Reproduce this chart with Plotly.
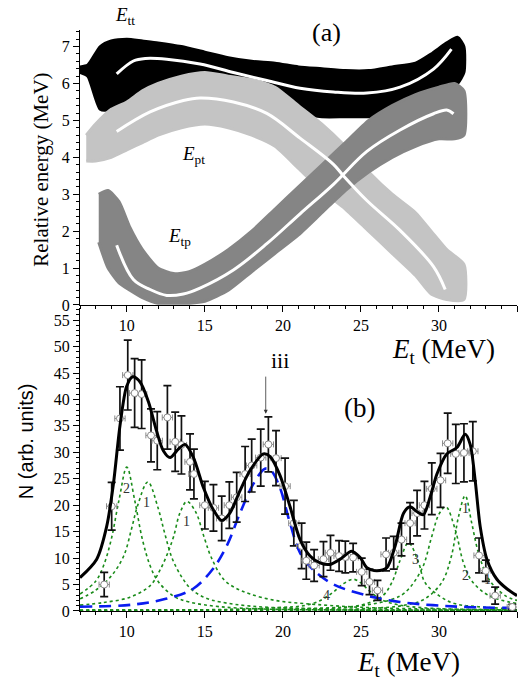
import plotly.graph_objects as go

# ---------------- Panel (a): relative energies vs E_t ----------------
# scatter-cloud envelopes
tt_x = [7.0, 7.5, 8.3, 9.0, 10.0, 11.0, 12.0, 13.5, 15.0, 16.5, 18.0, 19.5, 21.0, 22.5, 24.0, 25.5, 27.0, 28.5, 29.5, 30.5, 31.2, 31.6]
tt_up = [6.45, 6.5, 7.0, 7.15, 7.2, 7.15, 7.1, 7.0, 6.85, 6.7, 6.6, 6.55, 6.45, 6.4, 6.35, 6.35, 6.45, 6.55, 6.8, 7.1, 7.25, 7.0]
tt_lo = [6.3, 6.2, 5.3, 5.3, 5.5, 5.6, 5.7, 5.7, 5.6, 5.5, 5.4, 5.3, 5.2, 5.1, 5.1, 5.1, 5.15, 5.3, 5.5, 5.8, 6.0, 6.3]

pt_x = [7.4, 8.0, 9.0, 10.0, 11.0, 12.0, 13.5, 15.0, 16.5, 18.0, 19.5, 21.0, 22.5, 24.0, 25.5, 27.0, 28.5, 29.5, 30.5, 31.6]
pt_up = [4.6, 4.9, 5.3, 5.5, 5.8, 6.0, 6.2, 6.3, 6.2, 6.1, 5.9, 5.4, 4.9, 4.3, 3.6, 3.0, 2.5, 2.0, 1.5, 1.1]
pt_lo = [3.9, 3.9, 4.0, 4.2, 4.4, 4.6, 4.8, 4.9, 4.8, 4.6, 4.3, 3.7, 3.1, 2.6, 2.0, 1.4, 0.8, 0.3, 0.15, 0.15]

tp_x = [8.2, 8.8, 9.5, 10.2, 11.0, 12.0, 13.0, 14.0, 15.0, 16.5, 18.0, 19.5, 21.0, 22.5, 24.0, 25.5, 27.0, 28.5, 30.0, 31.0, 31.6]
tp_up = [3.0, 3.1, 2.8, 2.1, 1.5, 1.0, 0.85, 0.9, 1.1, 1.5, 2.0, 2.6, 3.2, 3.8, 4.4, 5.0, 5.4, 5.7, 5.9, 6.0, 5.8]
tp_lo = [1.7, 1.0, 0.6, 0.4, 0.2, 0.05, 0.05, 0.05, 0.1, 0.4, 0.9, 1.4, 1.9, 2.5, 3.1, 3.6, 4.0, 4.3, 4.5, 4.5, 4.6]

# white mean curves
wtt_x = [9.35, 10.42, 11.2, 12.56, 14.69, 16.83, 18.97, 21.1, 23.24, 25.38, 27.51, 29.65, 30.8]
wtt_y = [6.26, 6.61, 6.68, 6.66, 6.53, 6.30, 6.08, 5.87, 5.77, 5.74, 5.90, 6.39, 6.93]
wpt_x = [9.35, 11.49, 13.62, 14.69, 16.83, 18.97, 21.1, 23.24, 23.9, 25.38, 27.51, 29.65, 30.4]
wpt_y = [4.70, 5.23, 5.54, 5.61, 5.50, 5.19, 4.52, 3.81, 3.49, 2.83, 2.02, 1.04, 0.42]
wtp_x = [9.35, 10.42, 11.49, 12.56, 13.62, 14.69, 16.83, 18.97, 21.1, 23.24, 25.38, 27.51, 29.65, 30.5, 30.93]
wtp_y = [1.62, 0.69, 0.42, 0.26, 0.30, 0.46, 0.95, 1.66, 2.47, 3.27, 4.16, 4.74, 5.18, 5.28, 5.18]

# ---------------- Panel (b): spectrum ----------------
pts_x = [8.55, 9.03, 9.56, 10.06, 10.5, 10.95, 11.55, 11.95, 12.6, 13.1, 13.5, 14.05, 14.3, 15.0, 15.55, 16.08,
         16.57, 17.04, 17.58, 18.0, 18.58, 19.07, 19.56, 20.14, 20.7, 21.2, 21.5, 22.0, 22.6, 23.05, 23.6, 24.0,
         24.5, 25.05, 25.55, 26.06, 26.61, 27.1, 27.6, 28.15, 28.6, 29.07, 29.54, 30.1, 30.56, 31.08, 31.6, 32.17,
         32.57, 33.0, 33.6, 34.7]
pts_y = [5.0, 19.8, 36.4, 44.6, 41.2, 41.0, 33.2, 32.2, 36.6, 32.0, 31.4, 28.2, 25.9, 20.0, 19.5, 17.5,
         20.0, 21.5, 25.9, 27.5, 29.0, 31.5, 28.9, 23.6, 16.6, 12.3, 9.5, 8.6, 9.8, 11.0, 10.4, 10.2,
         10.1, 7.4, 5.5, 3.9, 10.7, 11.0, 13.5, 16.6, 18.5, 20.0, 23.1, 24.7, 31.7, 29.7, 29.9, 30.2,
         10.5, 7.6, 2.9, 0.75]
pts_err = [2.3, 4.5, 6.0, 6.6, 6.5, 6.5, 5.0, 5.5, 6.0, 5.6, 5.5, 5.3, 4.7, 4.5, 4.4, 4.2,
           4.4, 4.7, 5.2, 5.0, 5.4, 5.2, 5.2, 5.3, 4.3, 4.3, 3.5, 3.0, 3.3, 3.3, 2.9, 3.0,
           2.7, 2.6, 2.4, 1.9, 3.1, 3.1, 3.1, 3.9, 4.3, 4.5, 4.9, 5.1, 5.7, 5.6, 5.5, 5.6,
           3.3, 2.0, 1.6, 0.5]
pts_xerr = 0.33

tot_x = [7.0, 8.07, 8.71, 9.14, 9.56, 9.99, 10.38, 10.85, 11.38, 11.91, 12.34, 12.77, 13.3, 13.73, 14.27, 14.9,
         15.55, 16.08, 16.6, 17.26, 17.9, 18.75, 19.18, 19.82, 20.46, 21.1, 21.74, 22.38, 23.03, 23.67, 24.41,
         24.95, 25.38, 26.02, 26.66, 27.19, 27.73, 28.15, 28.58, 29.0, 29.44, 29.87, 30.5, 31.15, 31.68, 32.0,
         32.32, 32.64, 33.07, 33.71, 34.35, 35.0]
tot_y = [6.3, 9.8, 16.0, 24.0, 35.0, 42.5, 44.3, 43.3, 39.6, 34.0, 30.3, 29.0, 30.6, 31.5, 29.0, 23.4,
         19.1, 17.1, 18.5, 22.8, 26.6, 29.7, 29.2, 25.6, 19.7, 13.5, 10.4, 9.1, 8.8, 9.8, 11.3,
         10.1, 8.2, 7.6, 8.2, 12.3, 18.5, 19.7, 18.8, 18.2, 21.6, 25.9, 29.7, 30.9, 33.4, 31.5,
         24.7, 16.0, 9.8, 6.0, 4.2, 2.9]

blue_x = [7, 10.4, 12.5, 14.25, 15.5, 16.4, 17.25, 18.1, 18.85, 19.2, 19.8, 20.4, 21.1, 21.9, 23.2, 25.4, 27.5, 29.6, 31.8, 35]
blue_y = [0.8, 1.2, 2.3, 4.2, 7.9, 12.3, 18.5, 24.0, 26.9, 26.7, 23.4, 17.2, 11.0, 7.9, 5.1, 2.9, 1.7, 1.1, 0.75, 0.56]

gA_x = [7, 8, 8.5, 9, 9.5, 10, 10.5, 11, 11.5, 12, 13, 14, 16, 19, 23, 28, 35]
gA_y = [3.2, 5.6, 8.5, 13.5, 21, 27.2, 21, 13.5, 8.5, 5.6, 2.8, 1.7, 0.8, 0.35, 0.2, 0.12, 0.07]
gB_x = [7, 8, 9, 9.8, 10.3, 10.7, 11.35, 12.0, 12.4, 12.9, 13.5, 14.1, 15, 16, 18, 21, 25, 30, 35]
gB_y = [2.3, 3.9, 6.6, 10.4, 15.5, 20, 24.4, 19.5, 15, 10.0, 6.5, 4.2, 2.5, 1.7, 0.9, 0.5, 0.28, 0.16, 0.1]
gC_x = [7, 8.5, 10.2, 11.5, 12.1, 12.6, 13.0, 13.4, 13.85, 14.4, 15.0, 15.4, 16.2, 17.0, 17.9, 19.5, 21.4, 25, 30, 35]
gC_y = [1.1, 1.6, 2.6, 4.8, 7.6, 10.8, 14.1, 18.5, 20.7, 18.8, 13.5, 10.2, 6.0, 4.3, 3.2, 2.0, 1.4, 0.7, 0.35, 0.2]
gD_x = [7, 14, 18, 20, 21.1, 22.2, 23.2, 23.8, 24.5, 25.0, 25.4, 26.0, 26.4, 27.5, 29, 31, 35]
gD_y = [0.1, 0.2, 0.4, 0.7, 0.9, 1.7, 3.5, 5.0, 6.0, 5.3, 4.2, 2.7, 2.0, 1.1, 0.6, 0.35, 0.2]
gE_x = [7, 20, 23, 25, 26.4, 27.0, 27.5, 28.05, 28.7, 29.1, 30.0, 31.0, 32.5, 35]
gE_y = [0.1, 0.3, 0.5, 1.1, 2.9, 5.5, 9.5, 12.9, 9.1, 5.4, 2.9, 1.4, 0.8, 0.4]
gF_x = [7, 22, 25, 27.0, 27.83, 28.9, 29.54, 30.0, 30.44, 31.04, 31.57, 32.1, 33.2, 35.0]
gF_y = [0.1, 0.5, 1.0, 2.2, 3.5, 7.9, 14.1, 18.3, 19.7, 15.4, 9.1, 5.7, 2.9, 1.4]
gG_x = [7, 25, 28, 29.1, 30.18, 30.8, 31.25, 31.68, 32.1, 32.53, 33.2, 34.24, 35.0]
gG_y = [0.1, 0.4, 1.2, 2.3, 5.4, 10.4, 17.8, 21.8, 16.6, 11.0, 6.0, 2.9, 2.0]
base_x = [7, 35]
base_y = [0.15, 0.15]

comp_labels = ["2", "1", "1", "4", "3", "1", "2", "1"]
comp_lx = [9.95, 11.27, 13.8, 22.8, 28.5, 31.7, 31.7, 33.1]
comp_ly = [23.1, 20.6, 16.9, 2.9, 9.8, 19.4, 6.7, 6.0]

SERIF = "Liberation Serif"
SANS = "Liberation Sans"

fig = go.Figure()

def band(xs, up, lo, color):
    fig.add_trace(go.Scatter(x=xs + xs[::-1], y=up + lo[::-1], fill="toself", fillcolor=color,
                             mode="lines", line=dict(color=color, width=3, shape="spline", smoothing=0.6),
                             xaxis="x", yaxis="y", hoverinfo="skip", showlegend=False))

band(tt_x, tt_up, tt_lo, "#000000")
band(pt_x, pt_up, pt_lo, "#c4c4c4")
band(tp_x, tp_up, tp_lo, "#858585")
for wx, wy in [(wtt_x, wtt_y), (wpt_x, wpt_y), (wtp_x, wtp_y)]:
    fig.add_trace(go.Scatter(x=wx, y=wy, mode="lines", line=dict(color="white", width=3, shape="spline"),
                             xaxis="x", yaxis="y", showlegend=False))

# panel b
for gx, gy in [(gA_x, gA_y), (gB_x, gB_y), (gC_x, gC_y), (gD_x, gD_y), (gE_x, gE_y), (gF_x, gF_y), (gG_x, gG_y), (base_x, base_y)]:
    fig.add_trace(go.Scatter(x=gx, y=gy, mode="lines", line=dict(color="#1a8c1a", width=1.6, dash="dot", shape="spline"),
                             xaxis="x2", yaxis="y2", showlegend=False))
fig.add_trace(go.Scatter(x=blue_x, y=blue_y, mode="lines", line=dict(color="#0a1cf0", width=2.6, dash="12px,7px", shape="spline"),
                         xaxis="x2", yaxis="y2", showlegend=False))
fig.add_trace(go.Scatter(x=pts_x, y=pts_y, mode="markers",
                         marker=dict(symbol="circle", size=7, color="white", line=dict(color="#8a8a8a", width=1)),
                         error_y=dict(type="data", array=pts_err, color="#111111", thickness=1.7, width=4),
                         error_x=dict(type="constant", value=pts_xerr, color="#8a8a8a", thickness=1, width=3),
                         xaxis="x2", yaxis="y2", showlegend=False))
fig.add_trace(go.Scatter(x=tot_x, y=tot_y, mode="lines", line=dict(color="black", width=3, shape="spline", smoothing=0.8),
                         xaxis="x2", yaxis="y2", showlegend=False))

C = dict(xanchor="center", yanchor="middle", showarrow=False)
ann = []
for t, lx, ly in zip(comp_labels, comp_lx, comp_ly):
    ann.append(dict(x=lx, y=ly, xref="x2", yref="y2", text=t, font=dict(family=SERIF, size=14, color="#333333"), **C))
ann += [
    dict(x=22.8, y=7.38, xref="x", yref="y", text="(a)", font=dict(family=SERIF, size=26, color="black"), **C),
    dict(x=24.9, y=38.4, xref="x2", yref="y2", text="(b)", font=dict(family=SERIF, size=27, color="black"), **C),
    dict(x=19.8, y=47.3, xref="x2", yref="y2", text="iii", font=dict(family=SERIF, size=22, color="black"), **C),
    dict(x=18.9, y=37.3, xref="x2", yref="y2", ax=18.9, ay=44.6, axref="x2", ayref="y2", text="",
         showarrow=True, arrowhead=2, arrowsize=1, arrowwidth=0.8, arrowcolor="#333333"),
    dict(x=9.9, y=(694 - 16) / 694, xref="x", yref="paper", text="<i>E</i><sub>tt</sub>",
         font=dict(family=SERIF, size=19, color="black"), **C),
    dict(x=14.3, y=4.05, xref="x", yref="y", text="<i>E</i><sub>pt</sub>",
         font=dict(family=SERIF, size=19, color="black"), **C),
    dict(x=13.4, y=1.85, xref="x", yref="y", text="<i>E</i><sub>tp</sub>",
         font=dict(family=SERIF, size=19, color="black"), **C),
    dict(x=41 / 524, y=(694 - 172) / 694, xref="paper", yref="paper", text="Relative energy (MeV)", textangle=-90,
         font=dict(family=SERIF, size=21, color="black"), **C),
    dict(x=26 / 524, y=(694 - 447) / 694, xref="paper", yref="paper", text="N (arb. units)", textangle=-90,
         font=dict(family=SANS, size=20, color="black"), **C),
    dict(x=443 / 524, y=(694 - 356) / 694, xref="paper", yref="paper", text="<i>E</i><sub>t</sub> (MeV)",
         font=dict(family=SERIF, size=27, color="black"), **C),
    dict(x=408 / 524, y=(694 - 673) / 694, xref="paper", yref="paper", text="<i>E</i><sub>t</sub> (MeV)",
         font=dict(family=SERIF, size=27, color="black"), **C),
]

axis_common = dict(showgrid=False, zeroline=False, showline=True, linecolor="black", linewidth=1,
                   ticks="outside", ticklen=6, tickwidth=1, tickcolor="black",
                   tickfont=dict(family=SERIF, size=16, color="black"))
XD = [80 / 524, 517 / 524]
fig.update_layout(
    width=524, height=694, margin=dict(l=0, r=0, t=0, b=0),
    paper_bgcolor="white", plot_bgcolor="white", showlegend=False,
    xaxis=dict(domain=XD, range=[7, 35], anchor="y", tick0=0, dtick=5,
               minor=dict(dtick=1, ticklen=3, ticks="outside", tickcolor="black"), **axis_common),
    yaxis=dict(domain=[(694 - 309) / 694, (694 - 30) / 694], range=[0, 7.46], anchor="x", tick0=0, dtick=1,
               minor=dict(dtick=0.2, ticklen=3, ticks="outside", tickcolor="black"), **axis_common),
    xaxis2=dict(domain=XD, range=[7, 35], anchor="y2", tick0=0, dtick=5,
                minor=dict(dtick=1, ticklen=3, ticks="outside", tickcolor="black"), **axis_common),
    yaxis2=dict(domain=[(694 - 619) / 694, (694 - 312) / 694], range=[0, 57.3], anchor="x2", tick0=0, dtick=5,
                minor=dict(dtick=1, ticklen=3, ticks="outside", tickcolor="black"), **axis_common),
    annotations=ann,
)

fig.write_html("out.html")
